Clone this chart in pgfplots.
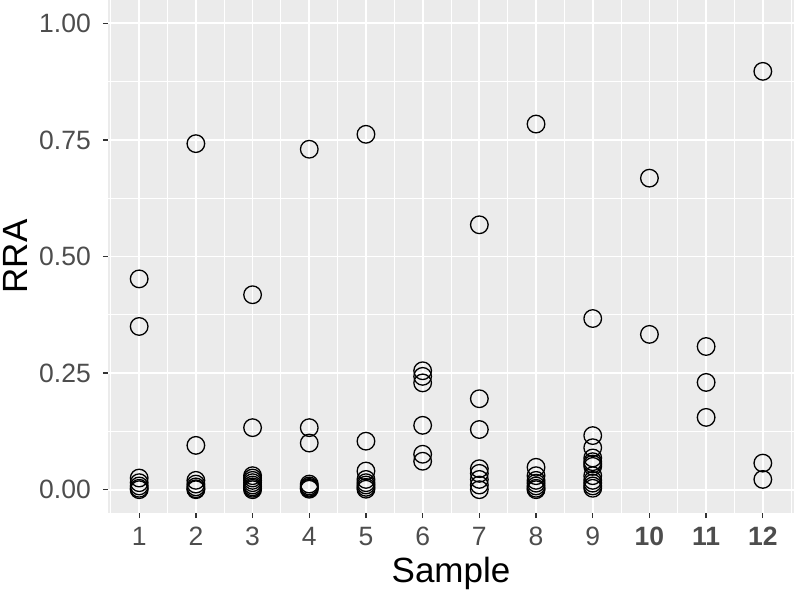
\documentclass[border=0pt]{standalone}
\usepackage{pgfplots}
\pgfplotsset{compat=1.18}
\usepackage{fontspec}
\setmainfont{Liberation Sans}
\definecolor{panelbg}{RGB}{235,235,235}
\definecolor{gtxt}{RGB}{77,77,77}
\definecolor{gtick}{RGB}{51,51,51}
\begin{document}
\begin{tikzpicture}
\begin{axis}[
  name=ax, at={(0pt,0pt)}, anchor=south west,
  scale only axis, width=686pt, height=513pt,
  xmin=0.45, xmax=12.55, ymin=-0.05, ymax=1.05,
  axis background/.style={fill=panelbg},
  axis line style={draw=none},
  xtick={1,...,12},
  xticklabels={1,2,3,4,5,6,7,8,9,\textbf{10},\textbf{11},\textbf{12}},
  ytick={0,0.25,0.5,0.75,1},
  yticklabels={0.00,0.25,0.50,0.75,1.00},
  minor xtick={0.5,1.5,...,12.5},
  minor ytick={0.125,0.375,0.625,0.875},
  grid=both,
  major grid style={white, line width=1.8pt},
  minor grid style={white, line width=0.9pt},
  tick align=outside,
  major tick length=5pt,
  minor tick length=0pt,
  tick style={gtick, line width=1.3pt},
  xtick pos=bottom, ytick pos=left,
  /pgf/number format/assume math mode=true,
  ticklabel style={font=\fontsize{26.5}{30}\selectfont, text=gtxt, inner sep=0pt},
  xticklabel style={yshift=-9pt},
  yticklabel style={xshift=-12pt},
  every axis x label/.style={at={(axis description cs:0.5,0)}, anchor=base, yshift=-69pt, font=\fontsize{35}{40}\selectfont},
  every axis y label/.style={at={(axis description cs:-0.118,0.5)}, anchor=base, rotate=90, font=\fontsize{35}{40}\selectfont},
  xlabel={Sample}, ylabel={RRA},
  clip=false,
]
\addplot[only marks, mark=o, mark size=8.8pt, mark options={draw=black, line width=1.3pt}] table[row sep=\\] {
x y\\
1 0.452\\ 1 0.350\\ 1 0.025\\ 1 0.015\\ 1 0.008\\ 1 0.003\\ 1 0.000\\
2 0.742\\ 2 0.095\\ 2 0.020\\ 2 0.012\\ 2 0.006\\ 2 0.002\\ 2 0.000\\
3 0.418\\ 3 0.133\\ 3 0.030\\ 3 0.025\\ 3 0.020\\ 3 0.015\\ 3 0.010\\ 3 0.006\\ 3 0.003\\ 3 0.000\\
4 0.730\\ 4 0.133\\ 4 0.100\\ 4 0.012\\ 4 0.008\\ 4 0.005\\ 4 0.003\\ 4 0.001\\
5 0.762\\ 5 0.104\\ 5 0.040\\ 5 0.022\\ 5 0.015\\ 5 0.010\\ 5 0.005\\ 5 0.001\\
6 0.255\\ 6 0.243\\ 6 0.229\\ 6 0.138\\ 6 0.076\\ 6 0.061\\
7 0.568\\ 7 0.195\\ 7 0.129\\ 7 0.045\\ 7 0.035\\ 7 0.022\\ 7 0.010\\ 7 0.000\\
8 0.784\\ 8 0.048\\ 8 0.030\\ 8 0.020\\ 8 0.014\\ 8 0.008\\ 8 0.003\\ 8 0.000\\
9 0.367\\ 9 0.116\\ 9 0.090\\ 9 0.068\\ 9 0.060\\ 9 0.055\\ 9 0.050\\ 9 0.030\\ 9 0.020\\ 9 0.014\\ 9 0.008\\ 9 0.003\\
10 0.668\\ 10 0.333\\
11 0.307\\ 11 0.230\\ 11 0.155\\
12 0.897\\ 12 0.057\\ 12 0.022\\
};
\end{axis}
\pgfresetboundingbox
\path[use as bounding box] (-108pt,-79pt) rectangle (687pt,513pt);
\end{tikzpicture}
\end{document}
